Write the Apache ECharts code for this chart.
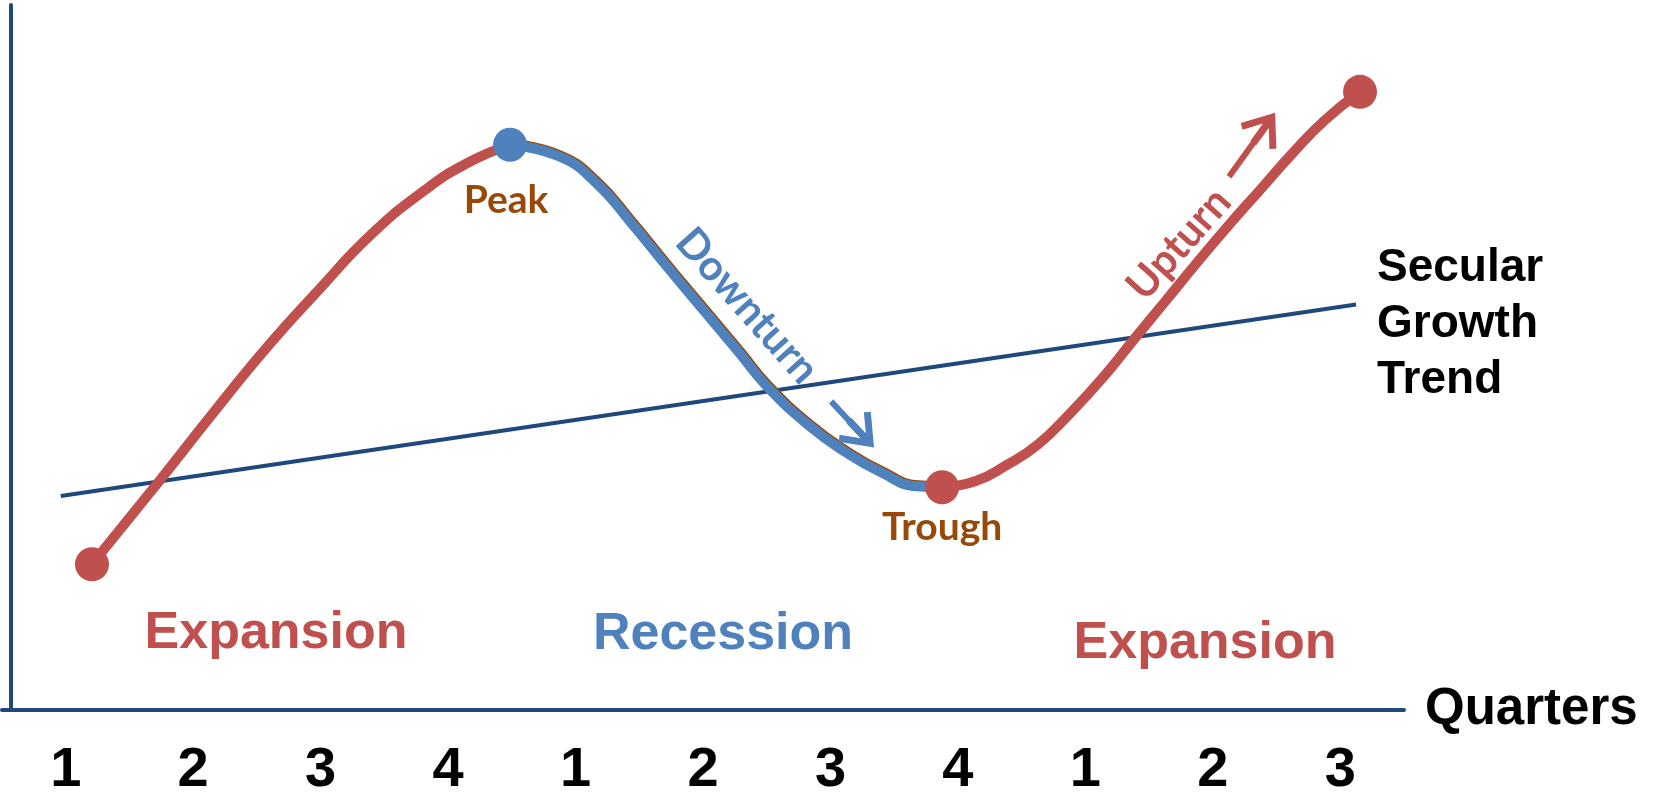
<!DOCTYPE html>
<html>
<head>
<meta charset="utf-8">
<script src="https://cdn.jsdelivr.net/npm/echarts@6/dist/echarts.min.js"></script>
<style>
  html, body { margin: 0; padding: 0; background: #fff; }
  #chart { width: 1661px; height: 799px; }
</style>
</head>
<body>
<div id="chart"></div>
<script>
// quarters along the bottom
const quarterTicks = [0, 1, 2, 3, 4, 5, 6, 7, 8, 9, 10];
const quarterLabels = ['1', '2', '3', '4', '1', '2', '3', '4', '1', '2', '3'];

// secular growth trend (straight line)
const trendLine = [[-0.039, 30.35], [10.124, 57.51]];

// business cycle (x = quarter index, y = activity level)
const expansionRise = [
    [0.206, 20.68], [0.732, 32.44], [1.148, 41.93], [1.564, 51.13],
    [1.980, 59.49], [2.395, 67.42], [2.811, 73.65], [3.141, 77.48],
    [3.486, 80.17]
];
const recessionFall = [
    [3.486, 80.17], [3.878, 78.47], [4.161, 74.79], [4.436, 69.12],
    [4.718, 62.89], [5.000, 56.80], [5.283, 50.71], [5.503, 45.89],
    [5.840, 40.23], [6.122, 36.54], [6.397, 33.71], [6.680, 31.73],
    [6.876, 31.59]
];
const expansionRecover = [
    [6.876, 31.59], [7.135, 32.44], [7.378, 34.70], [7.629, 37.68],
    [7.880, 42.07], [8.131, 47.03], [8.374, 52.41], [8.625, 57.93],
    [8.876, 63.46], [9.128, 68.84], [9.379, 73.94], [9.622, 78.90],
    [9.873, 83.57], [10.155, 87.68]
];

// turning points
const turningPoints = [[0.206, 20.68], [3.486, 80.17], [6.876, 31.59], [10.155, 87.68]];
const turningNames = ['', 'Peak', 'Trough', ''];

// arrows next to Downturn / Upturn
const downArrow = [[6.005, 43.77], [6.243, 39.16]];
const upArrow = [[9.127, 75.64], [9.404, 82.58]];

const RED = '#C0504D';
const BLUE = '#4F81BD';
const NAVY = '#1F497D';
const BROWN = '#984807';

const chevron = 'path://M0,0 L18,23 L13.5,26.5 L0,9 L-13.5,26.5 L-18,23 Z M-3,4 L3,4 L3,30 L-3,30 Z';

let chartDom = document.getElementById('chart');
let myChart = echarts.init(chartDom);

function arrowMark(pts, color) {
    return {
        silent: true,
        symbol: ['none', chevron],
        symbolSize: [44, 37],
        label: { show: false },
        lineStyle: { color: color, width: 6, type: 'solid', opacity: 1 },
        itemStyle: { color: color, opacity: 1 },
        emphasis: { disabled: true },
        data: [[{ coord: pts[0] }, { coord: pts[1] }]]
    };
}

let option = {
    animation: false,
    grid: { left: 2, right: 257, top: 5, bottom: 88 },
    xAxis: {
        type: 'value',
        min: -0.5,
        max: 10.5,
        name: 'Quarters',
        nameLocation: 'end',
        nameGap: 21,
        nameTextStyle: {
            fontFamily: 'Liberation Sans',
            fontWeight: 'bold',
            fontSize: 51,
            color: '#000',
            verticalAlign: 'middle'
        },
        axisLine: { onZero: false, lineStyle: { color: NAVY, width: 4 } },
        axisTick: { show: false },
        splitLine: { show: false },
        axisLabel: {
            customValues: quarterTicks,
            formatter: function (v) { return quarterLabels[Math.round(v)]; },
            margin: 33,
            fontFamily: 'Liberation Sans',
            fontWeight: 'bold',
            fontSize: 56,
            color: '#000'
        }
    },
    yAxis: {
        type: 'value',
        min: 0,
        max: 100,
        offset: -9,
        axisLine: { show: true, onZero: false, lineStyle: { color: NAVY, width: 4 } },
        axisTick: { show: false },
        axisLabel: { show: false },
        splitLine: { show: false }
    },
    graphic: [
        {
            type: 'text', x: 276, y: 634,
            style: { text: 'Expansion', fill: RED, font: 'bold 52px "Liberation Sans"', align: 'center', verticalAlign: 'middle' }
        },
        {
            type: 'text', x: 723, y: 635,
            style: { text: 'Recession', fill: BLUE, font: 'bold 52px "Liberation Sans"', align: 'center', verticalAlign: 'middle' }
        },
        {
            type: 'text', x: 1205, y: 644,
            style: { text: 'Expansion', fill: RED, font: 'bold 52px "Liberation Sans"', align: 'center', verticalAlign: 'middle' }
        },
        {
            type: 'text', x: 1377, y: 324,
            style: { text: 'Secular\nGrowth\nTrend', fill: '#000', font: 'bold 46px "Liberation Sans"', lineHeight: 56, align: 'left', verticalAlign: 'middle' }
        },
        {
            type: 'text', x: 747, y: 306, rotation: -0.845,
            style: { text: 'Downturn', fill: BLUE, font: 'bold 42px Lato', align: 'center', verticalAlign: 'middle' }
        },
        {
            type: 'text', x: 1179, y: 244, rotation: 0.845,
            style: { text: 'Upturn', fill: RED, font: 'bold 42px Lato', align: 'center', verticalAlign: 'middle' }
        }
    ],
    series: [
        {
            type: 'line',
            data: trendLine,
            showSymbol: false,
            silent: true,
            lineStyle: { color: NAVY, width: 4 },
            z: 1
        },
        {
            type: 'line',
            data: expansionRise,
            smooth: 0.5,
            showSymbol: false,
            silent: true,
            lineStyle: { color: RED, width: 10, cap: 'round' },
            z: 2
        },
        {
            type: 'line',
            data: recessionFall,
            smooth: 0.5,
            showSymbol: false,
            silent: true,
            lineStyle: {
                color: BLUE, width: 10, cap: 'round',
                shadowColor: BROWN, shadowOffsetX: 1, shadowOffsetY: -1, shadowBlur: 0
            },
            markLine: arrowMark(downArrow, BLUE),
            z: 2
        },
        {
            type: 'line',
            data: expansionRecover,
            smooth: 0.5,
            showSymbol: false,
            silent: true,
            lineStyle: { color: RED, width: 10, cap: 'round' },
            markLine: arrowMark(upArrow, RED),
            z: 2
        },
        {
            type: 'scatter',
            symbolSize: 34,
            silent: true,
            z: 5,
            data: turningPoints.map(function (p, i) {
                return {
                    value: p,
                    itemStyle: { color: i === 1 ? BLUE : RED, opacity: 1 },
                    label: {
                        show: turningNames[i] !== '',
                        formatter: turningNames[i],
                        position: 'inside',
                        offset: i === 1 ? [-4, 56] : [0, 40],
                        fontFamily: 'Lato',
                        fontWeight: 'bold',
                        fontSize: 39,
                        color: BROWN
                    }
                };
            })
        }
    ]
};

option && myChart.setOption(option);
</script>
</body>
</html>
